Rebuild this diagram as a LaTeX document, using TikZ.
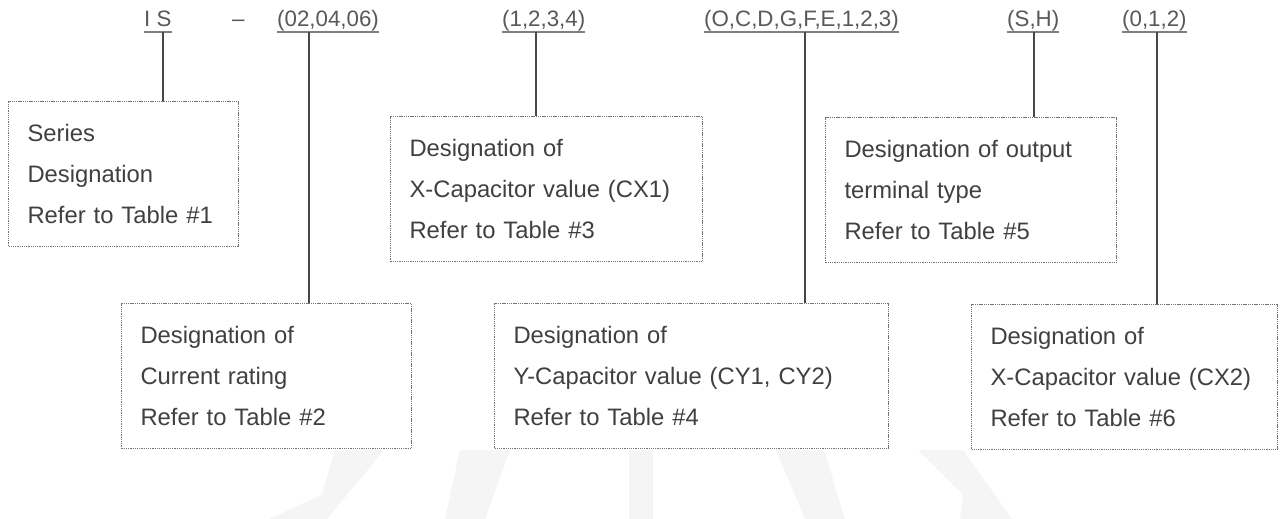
\documentclass[tikz,border=0pt]{standalone}
\usepackage{fontspec}
\setmainfont{Liberation Sans}
\begin{document}
\begin{tikzpicture}[x=1pt,y=-1pt,
  box/.style={draw=black!55, line width=1.1pt, dash pattern=on 1.3pt off 0.9pt, fill=white,
    anchor=north west, align=left, inner xsep=19pt, inner ysep=0pt, text=black!75,
    font=\fontsize{23.8}{41}\selectfont},
  hdr/.style={anchor=base west, inner sep=0pt, text=black!65, font=\fontsize{22.3}{26}\selectfont},
  conn/.style={draw=black!72, line width=1.8pt},
  uline/.style={draw=black!50, line width=1.4pt},
  wm/.style={fill=black!4, draw=none}]
\useasboundingbox (0,0) rectangle (1280,519);
\fill[white] (0,0) rectangle (1280,519);
% faint watermark
\fill[wm] (335,450) -- (384,450) -- (327,519) -- (269,519) -- (322,495) -- cycle;
\fill[wm] (460,450) -- (510,450) -- (485,519) -- (445,519) -- cycle;
\fill[wm] (629,450) -- (653,450) -- (653,519) -- (629,519) -- cycle;
\fill[wm] (776,450) -- (824,450) -- (845,519) -- (805,519) -- cycle;
\fill[wm] (918,450) -- (963,450) -- (1012,519) -- (960,519) -- (963,495) -- cycle;
% header
\node[hdr] (h1) at (144,27) {I S};
\node[hdr] (h2) at (232,27) {\textendash};
\node[hdr] (h3) at (277,27) {(02,04,06)};
\node[hdr] (h4) at (502,27) {(1,2,3,4)};
\node[hdr] (h5) at (704,27) {(O,C,D,G,F,E,1,2,3)};
\node[hdr] (h6) at (1007,27) {(S,H)};
\node[hdr] (h7) at (1122,27) {(0,1,2)};
\foreach \h in {h1,h3,h4,h5,h6,h7}
  \draw[uline] ([yshift=-5pt]\h.base west) -- ([yshift=-5pt]\h.base east);
% boxes
\node[box, text width=192pt] (b1) at (8,101)
  {\rule{0pt}{40pt}Series\\Designation\\Refer to Table \#1\rule[-23pt]{0pt}{23pt}};
\node[box, text width=252pt] (b2) at (121,303)
  {\rule{0pt}{40pt}Designation of\\Current rating\\Refer to Table \#2\rule[-23pt]{0pt}{23pt}};
\node[box, text width=274pt] (b3) at (390,116)
  {\rule{0pt}{40pt}Designation of\\X-Capacitor value (CX1)\\Refer to Table \#3\rule[-23pt]{0pt}{23pt}};
\node[box, text width=356pt] (b4) at (494,303)
  {\rule{0pt}{40pt}Designation of\\Y-Capacitor value (CY1, CY2)\\Refer to Table \#4\rule[-23pt]{0pt}{23pt}};
\node[box, text width=253pt] (b5) at (825,117)
  {\rule{0pt}{40pt}Designation of output\\terminal type\\Refer to Table \#5\rule[-23pt]{0pt}{23pt}};
\node[box, text width=268pt] (b6) at (971,304)
  {\rule{0pt}{40pt}Designation of\\X-Capacitor value (CX2)\\Refer to Table \#6\rule[-23pt]{0pt}{23pt}};
% connectors
\coordinate (c1) at (163,32);
\coordinate (c2) at (309,32);
\coordinate (c3) at (536,32);
\coordinate (c4) at (805,32);
\coordinate (c5) at (1034,32);
\coordinate (c6) at (1157,32);
\draw[conn] (c1) -- (c1 |- b1.north);
\draw[conn] (c2) -- (c2 |- b2.north);
\draw[conn] (c3) -- (c3 |- b3.north);
\draw[conn] (c4) -- (c4 |- b4.north);
\draw[conn] (c5) -- (c5 |- b5.north);
\draw[conn] (c6) -- (c6 |- b6.north);
\end{tikzpicture}
\end{document}
